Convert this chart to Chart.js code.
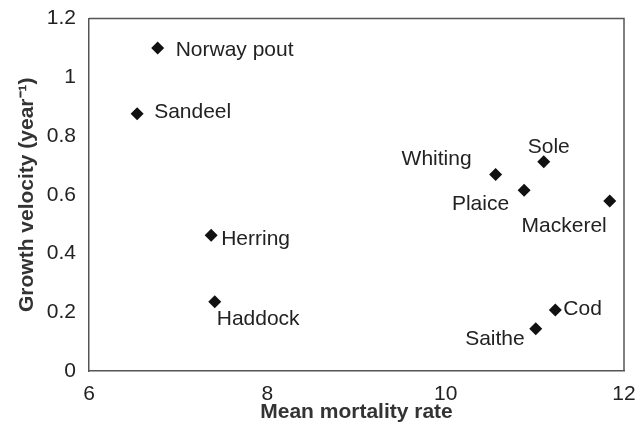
<!DOCTYPE html>
<html>
<head>
<meta charset="utf-8">
<script src="https://cdn.jsdelivr.net/npm/chart.js@4.4.0/dist/chart.umd.min.js"></script>
<style>
  html, body { margin: 0; padding: 0; background: #fff; }
  #wrap { width: 640px; height: 433px; }
</style>
</head>
<body>
<div id="wrap"><canvas id="fishChart" width="640" height="433"></canvas></div>
<script>
// species and values
const species = ['Norway pout', 'Sandeel', 'Herring', 'Haddock', 'Whiting', 'Sole', 'Plaice', 'Mackerel', 'Cod', 'Saithe'];
const mortality = [6.77, 6.54, 7.37, 7.41, 10.56, 11.10, 10.88, 11.84, 11.23, 11.01];
const growth = [1.10, 0.876, 0.462, 0.236, 0.669, 0.712, 0.615, 0.579, 0.208, 0.144];

// where each name sits relative to its marker (pixels)
const labelOffset = [
    { dx: 18, dy: 2, align: 'left' },
    { dx: 17, dy: -1, align: 'left' },
    { dx: 10, dy: 4, align: 'left' },
    { dx: 2, dy: 18, align: 'left' },
    { dx: -24, dy: -15, align: 'right' },
    { dx: -16, dy: -15, align: 'left' },
    { dx: -15, dy: 14, align: 'right' },
    { dx: -3, dy: 25, align: 'right' },
    { dx: 8, dy: -1, align: 'left' },
    { dx: -11, dy: 11, align: 'right' }
];

const fontFamily = '"Liberation Sans", Arial, sans-serif';
const textColor = '#222';
const axisColor = '#555';

// draws the species names next to the markers
const nameLabels = {
    id: 'nameLabels',
    afterDatasetsDraw(chart) {
        const ctx = chart.ctx;
        const meta = chart.getDatasetMeta(0);
        ctx.save();
        ctx.font = '21px ' + fontFamily;
        ctx.fillStyle = textColor;
        ctx.textBaseline = 'middle';
        meta.data.forEach((pt, i) => {
            const o = labelOffset[i];
            ctx.textAlign = o.align;
            ctx.fillText(species[i], pt.x + o.dx, pt.y + o.dy);
        });
        ctx.restore();
    }
};

// right and top border of the plot box
const boxBorder = {
    id: 'boxBorder',
    afterDraw(chart) {
        const a = chart.chartArea;
        const ctx = chart.ctx;
        ctx.save();
        ctx.strokeStyle = axisColor;
        ctx.lineWidth = 1.5;
        ctx.beginPath();
        ctx.moveTo(a.left, a.top);
        ctx.lineTo(a.right, a.top);
        ctx.lineTo(a.right, a.bottom);
        ctx.stroke();
        ctx.restore();
    }
};

function renderChart() {
    const ctx = document.getElementById('fishChart').getContext('2d');
    new Chart(ctx, {
        type: 'scatter',
        data: {
            datasets: [{
                data: mortality.map((m, i) => ({ x: m, y: growth[i] })),
                pointStyle: 'rectRot',
                pointRadius: 6.5,
                backgroundColor: '#111',
                borderColor: '#111',
                borderWidth: 0
            }]
        },
        options: {
            responsive: false,
            animation: false,
            layout: { padding: { top: 17, right: 16, left: 0, bottom: 0 } },
            plugins: {
                legend: { display: false },
                tooltip: { enabled: false }
            },
            scales: {
                x: {
                    min: 6,
                    max: 12,
                    ticks: {
                        stepSize: 2,
                        color: textColor,
                        font: { size: 21, family: fontFamily, lineHeight: 1 },
                        padding: 8
                    },
                    grid: { display: false, drawTicks: true, tickLength: 5, color: axisColor },
                    border: { color: axisColor, width: 1.5 },
                    title: {
                        display: true,
                        text: 'Mean mortality rate',
                        color: '#333',
                        font: { size: 21, weight: 'bold', family: fontFamily },
                        padding: { top: 0, bottom: 8 }
                    },
                    afterFit(scale) {
                        scale.height = 62;
                        scale.paddingLeft = 0;
                        scale.paddingRight = 0;
                    }
                },
                y: {
                    min: 0,
                    max: 1.2,
                    ticks: {
                        stepSize: 0.2,
                        color: textColor,
                        font: { size: 21, family: fontFamily, lineHeight: 1 },
                        padding: 8,
                        callback: v => Math.round(v * 10) / 10
                    },
                    grid: { display: false, drawTicks: true, tickLength: 5, color: axisColor },
                    border: { color: axisColor, width: 1.5 },
                    title: {
                        display: true,
                        text: 'Growth velocity (year\u207B\u00B9)',
                        color: '#333',
                        font: { size: 21, weight: 'bold', family: fontFamily },
                        padding: { top: 15, bottom: 0 }
                    },
                    afterFit(scale) { scale.width = 89; }
                }
            }
        },
        plugins: [nameLabels, boxBorder]
    });
}

document.addEventListener('DOMContentLoaded', () => {
    renderChart();
});
</script>
</body>
</html>
